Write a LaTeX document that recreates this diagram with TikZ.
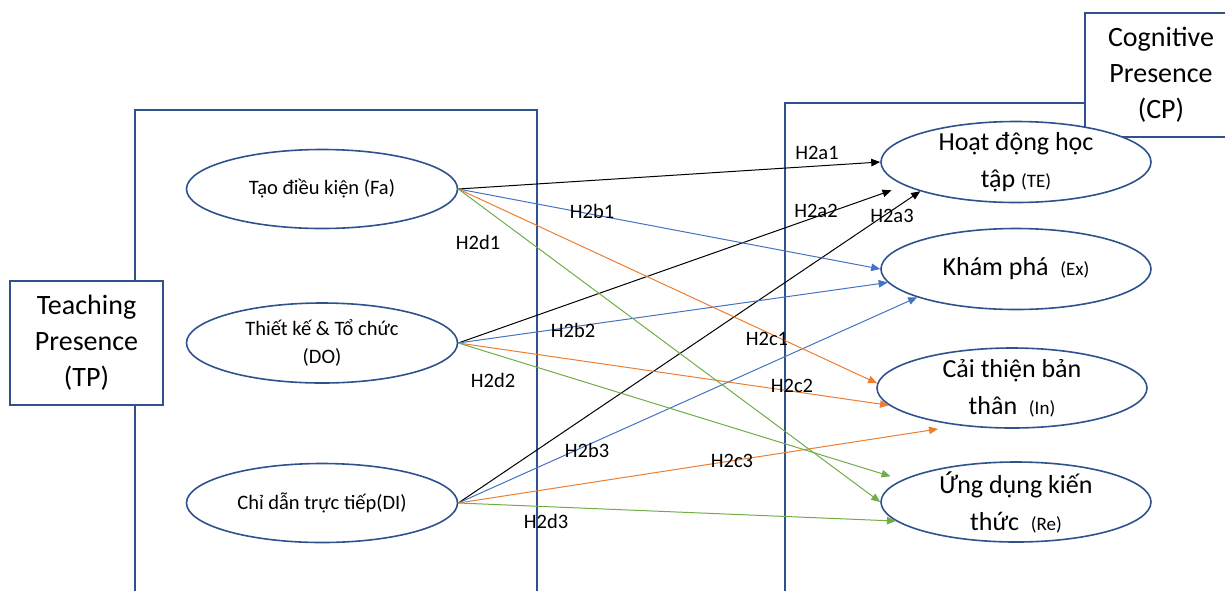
\documentclass[tikz,border=0pt]{standalone}
\usepackage{fontspec}
\setmainfont{Carlito}
\usepackage{tikz}
\usetikzlibrary{arrows.meta,shapes.geometric}

\definecolor{frameblue}{HTML}{2F528F}
\definecolor{hblue}{HTML}{4472C4}
\definecolor{horange}{HTML}{ED7D31}
\definecolor{hgreen}{HTML}{70AD47}

\newcommand{\smallpar}[1]{{\fontsize{19}{37}\selectfont(#1)}}

\begin{document}
\begin{tikzpicture}[x=1pt,y=-1pt,>={Triangle[length=9pt,width=7.5pt]},
    boxline/.style={draw=frameblue,line width=1.6pt},
    presence/.style={boxline,fill=white,align=center,inner sep=0pt,
      minimum width=153pt,minimum height=124pt,font=\fontsize{28}{36}\selectfont},
    factor/.style={ellipse,draw=frameblue,line width=1.6pt,fill=white,
      minimum width=271pt,minimum height=79pt,inner sep=0pt,align=center,
      font=\fontsize{20.5}{28}\selectfont},
    outcome/.style={factor,minimum width=270pt,minimum height=81pt,
      inner ysep=-6pt,font=\fontsize{26}{37}\selectfont},
    hyp/.style={inner sep=0pt,font=\fontsize{20.5}{22}\selectfont},
    link/.style={->,line width=1pt}]
  \useasboundingbox (0,0) rectangle (1225,590);

  % frames
  \draw[boxline] (135,600) -- (135,110) -- (537,110) -- (537,600);
  \draw[boxline] (785,600) -- (785,103) -- (1090,103);

  \node[presence] (tp) at (86.5,343) {Teaching\\Presence\\(TP)};
  \node[presence,minimum width=152pt] (cp) at (1161,75) {Cognitive\\Presence\\(CP)};

  % teaching presence
  \node[factor] (fa) at (322,189) {Tạo điều kiện (Fa)};
  \node[factor,minimum height=80pt] (do) at (322,343) {Thiết kế \& Tổ chức\\(DO)};
  \node[factor] (di) at (322,503) {Chỉ dẫn trực tiếp(DI)};

  % cognitive presence
  \node[outcome] (te) at (1016,162) {Hoạt động học\\tập \smallpar{TE}};
  \node[outcome] (ex) at (1016,269) {Khám phá\ \ \smallpar{Ex}};
  \node[outcome,minimum height=80pt] (im) at (1012,388) {Cải thiện bản\\thân\ \ \smallpar{In}};
  \node[outcome,minimum height=80pt] (re) at (1016,502) {Ứng dụng kiến\\thức\ \ \smallpar{Re}};

  \coordinate (c3end) at (938,429);

  \path[link]
    (fa.east) edge (te.west)
    (do.east) edge[shorten >=14pt] (te.192)
    (di.east) edge (te.197);
  \path[link,hblue]
    (fa.east) edge (ex.west)
    (do.east) edge (ex.186)
    (di.east) edge (ex.196);
  \path[link,horange]
    (fa.east) edge (im.178)
    (do.east) edge (im.188)
    (di.east) edge (c3end);
  \path[link,hgreen]
    (fa.east) edge (re.west)
    (do.east) edge[shorten >=12pt] (re.169)
    (di.east) edge (re.189);

  \node[hyp] (h2a1) at (817,153) {H2a1};
  \node[hyp] (h2a2) at (816,211) {H2a2};
  \node[hyp] (h2a3) at (892,216) {H2a3};
  \node[hyp] (h2b1) at (592,211) {H2b1};
  \node[hyp] (h2b2) at (573,330) {H2b2};
  \node[hyp] (h2b3) at (587,450) {H2b3};
  \node[hyp] (h2c1) at (767,339) {H2c1};
  \node[hyp] (h2c2) at (792,386) {H2c2};
  \node[hyp] (h2c3) at (732,461) {H2c3};
  \node[hyp] (h2d1) at (478,242) {H2d1};
  \node[hyp] (h2d2) at (493,380) {H2d2};
  \node[hyp] (h2d3) at (546,521) {H2d3};
\end{tikzpicture}
\end{document}
